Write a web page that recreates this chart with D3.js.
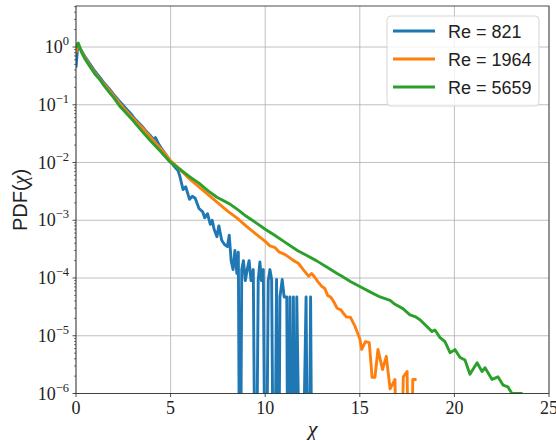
<!DOCTYPE html>
<html>
<head>
<meta charset="utf-8">
<script src="https://cdn.jsdelivr.net/npm/d3@7"></script>
<style>
  body { margin: 0; background: #fff; }
  svg { display: block; }
</style>
</head>
<body>
<svg width="556" height="440"></svg>
<script>
// series: [chi, PDF] pairs (0 = empty bin)
const re821 = [
  [0, 0.44], [0.1, 1.12], [0.3, 0.85], [0.5, 0.66], [0.75, 0.5], [1.0, 0.38], [1.25, 0.3],
  [1.5, 0.235], [1.75, 0.19], [2.0, 0.15], [2.25, 0.12], [2.5, 0.097], [2.7, 0.082], [2.9, 0.07],
  [3.1, 0.057], [3.3, 0.049], [3.5, 0.042], [3.7, 0.035], [3.9, 0.03], [4.1, 0.025], [4.2, 0.027],
  [4.4, 0.02], [4.6, 0.016], [4.8, 0.013], [5.0, 0.0105], [5.2, 0.0085], [5.4, 0.0072],
  [5.5, 0.0056], [5.66, 0.0034], [5.8, 0.0038], [6.0, 0.0023], [6.15, 0.0026], [6.3, 0.0024],
  [6.5, 0.0016], [6.7, 0.0014], [6.8, 0.0011], [6.95, 0.0013], [7.1, 0.00085], [7.2, 0.001],
  [7.3, 0.0007], [7.45, 0.00052], [7.55, 0.0008], [7.7, 0.00045], [7.85, 0.00038], [8.0, 0.00035],
  [8.1, 0.00055], [8.2, 0.0002], [8.3, 0.00014], [8.4, 0.0003], [8.5, 0.00012], [8.58, 0.00028],
  [8.67, 0], [8.76, 0.00014], [8.85, 0.0002], [8.95, 0.00009], [9.05, 0.00014], [9.15, 0.0002],
  [9.25, 0.00009], [9.37, 0.00014], [9.5, 0], [9.63, 0.00009], [9.72, 0.00019], [9.8, 0.00009],
  [9.9, 0.00014], [10.03, 0], [10.16, 0.00009], [10.25, 0.00014], [10.34, 0.000094], [10.47, 0],
  [10.6, 0.000094], [10.69, 0], [10.78, 0.000047], [10.9, 0.000094], [11.0, 0.000047],
  [11.14, 0.000047], [11.22, 0], [11.31, 0.000047], [11.4, 0], [11.49, 0.000047], [11.58, 0],
  [11.67, 0.000047], [11.9, 0], [12.16, 0.000047], [12.28, 0], [12.4, 0.000047], [12.5, 0]
];
const re1964 = [
  [0, 0.8], [0.1, 1.15], [0.3, 0.82], [0.5, 0.63], [0.75, 0.47], [1.0, 0.355], [1.25, 0.28],
  [1.5, 0.224], [1.75, 0.178], [2.0, 0.141], [2.25, 0.112], [2.5, 0.089], [2.75, 0.072],
  [3.0, 0.059], [3.25, 0.048], [3.5, 0.04], [3.75, 0.032], [4.0, 0.026], [4.25, 0.021],
  [4.5, 0.017], [4.75, 0.0135], [5.0, 0.0107], [5.5, 0.0076], [6.0, 0.0052], [6.5, 0.0038],
  [7.0, 0.00275], [7.5, 0.002], [8.0, 0.00145], [8.5, 0.0011], [9.0, 0.00079], [9.5, 0.00058],
  [10.0, 0.00043], [10.25, 0.00036], [10.5, 0.00034], [10.75, 0.00028], [11.0, 0.00026],
  [11.25, 0.00023], [11.5, 0.0002], [11.75, 0.00018], [12.0, 0.000141], [12.3, 0.000107],
  [12.45, 0.00012], [12.6, 0.000105], [12.8, 0.000085], [13.0, 0.000071], [13.15, 0.000066],
  [13.3, 0.00005], [13.45, 0.000047], [13.6, 0.00004], [13.8, 0.00003], [14.0, 0.000028],
  [14.15, 0.000024], [14.3, 0.000021], [14.5, 0.000021], [14.75, 0.0000145], [15.0, 0.0000089],
  [15.1, 0.0000058], [15.3, 0.0000079], [15.5, 0.0000076], [15.65, 0.0000019], [15.8, 0.0000019],
  [15.96, 0.0000058], [16.2, 0.0000026], [16.4, 0.0000044], [16.6, 0.0000012], [16.86, 0.00000175],
  [17.05, 0], [17.3, 0.00000195], [17.5, 0.0000024], [17.65, 0], [17.8, 0.00000175], [18.0, 0.00000175]
];
const re5659 = [
  [0, 0.95], [0.12, 1.17], [0.3, 0.8], [0.5, 0.6], [0.75, 0.45], [1.0, 0.34], [1.27, 0.27],
  [1.5, 0.21], [1.75, 0.166], [2.0, 0.132], [2.33, 0.093], [2.66, 0.071], [3.0, 0.054],
  [3.45, 0.036], [3.9, 0.0245], [4.45, 0.0158], [4.97, 0.0102], [5.5, 0.0076], [6.0, 0.0057],
  [6.5, 0.0044], [7.0, 0.0032], [7.45, 0.0025], [8.14, 0.0019], [8.6, 0.00148], [9.0, 0.00117],
  [9.5, 0.00091], [10.0, 0.0007], [10.5, 0.00055], [11.0, 0.000427], [11.7, 0.0003],
  [12.2, 0.000245], [12.7, 0.0002], [13.4, 0.000145], [13.8, 0.00012], [14.1, 0.000105],
  [14.5, 0.000087], [15.0, 0.000071], [15.54, 0.0000575], [16.07, 0.000047], [16.6, 0.000041],
  [16.86, 0.000035], [17.28, 0.0000295], [17.65, 0.000023], [17.92, 0.0000215], [18.18, 0.000019],
  [18.45, 0.0000155], [18.82, 0.0000118], [18.97, 0.0000126], [19.24, 0.0000093], [19.5, 0.0000079],
  [19.77, 0.0000051], [20.03, 0.00000575], [20.3, 0.0000042], [20.56, 0.0000038], [20.82, 0.00000215],
  [21.2, 0.0000034], [21.46, 0.0000024], [21.62, 0.0000028], [21.99, 0.00000175], [22.15, 0.00000185],
  [22.3, 0.00000195], [22.57, 0.0000014], [22.83, 0.0000013], [23.04, 0.000001], [23.3, 0.000001],
  [23.6, 0.000001]
];

const series = [
  {label: "Re = 821", data: re821, color: "#1f77b4"},
  {label: "Re = 1964", data: re1964, color: "#ff7f0e"},
  {label: "Re = 5659", data: re5659, color: "#2ca02c"}
];
const xTicks = [0, 5, 10, 15, 20, 25];
const yExps = [-6, -5, -4, -3, -2, -1, 0];

let svg = d3.select("svg");
const margin = {left: 76, right: 7, top: 6, bottom: 46.5};
const W = 556, H = 440;

let x = d3.scaleLinear().domain([0, 25]).range([margin.left, W - margin.right]);
let y = d3.scaleLog().domain([1e-6, Math.pow(10, 0.71)]).range([H - margin.bottom, margin.top]);

const serif = "'Liberation Serif', 'DejaVu Serif', serif";
const sans = "'Liberation Sans', 'DejaVu Sans', sans-serif";

svg.append("defs").append("clipPath").attr("id", "plotclip")
  .append("rect")
  .attr("x", x(0)).attr("y", y.range()[1])
  .attr("width", x(25) - x(0)).attr("height", y.range()[0] - y.range()[1]);

// grid
let grid = svg.append("g").attr("stroke", "#b0b0b0").attr("stroke-width", 0.8);
grid.selectAll("line.gx").data(xTicks).enter().append("line")
  .attr("x1", d => x(d)).attr("x2", d => x(d))
  .attr("y1", y.range()[0]).attr("y2", y.range()[1]);
grid.selectAll("line.gy").data(yExps).enter().append("line")
  .attr("y1", d => y(Math.pow(10, d))).attr("y2", d => y(Math.pow(10, d)))
  .attr("x1", x(0)).attr("x2", x(25));

// lines
let line = d3.line()
  .x(d => x(d[0]))
  .y(d => d[1] > 0 ? y(d[1]) : y.range()[0] + 200);

svg.append("g").attr("clip-path", "url(#plotclip)")
  .selectAll("path").data(series).enter().append("path")
  .attr("fill", "none")
  .attr("stroke", d => d.color)
  .attr("stroke-width", 2.9)
  .attr("stroke-linejoin", "round")
  .attr("d", d => line(d.data));

// spines
svg.append("rect")
  .attr("x", x(0)).attr("y", y.range()[1])
  .attr("width", x(25) - x(0)).attr("height", y.range()[0] - y.range()[1])
  .attr("fill", "none").attr("stroke", "#222").attr("stroke-width", 0.8);

// x ticks
let gx = svg.append("g");
gx.selectAll("line").data(xTicks).enter().append("line")
  .attr("x1", d => x(d)).attr("x2", d => x(d))
  .attr("y1", y.range()[0]).attr("y2", y.range()[0] + 3.5)
  .attr("stroke", "#222").attr("stroke-width", 0.8);
gx.selectAll("text").data(xTicks).enter().append("text")
  .attr("x", d => x(d)).attr("y", y.range()[0] + 20)
  .attr("text-anchor", "middle")
  .attr("font-family", serif).attr("font-size", 18)
  .attr("fill", "#222")
  .text(d => d);

// y ticks (major + minor)
let gy = svg.append("g");
let minors = [];
yExps.forEach(e => {
  for (let k = 2; k <= 9; k++) {
    let v = k * Math.pow(10, e);
    if (v <= y.domain()[1]) minors.push(v);
  }
});
gy.selectAll("line.minor").data(minors).enter().append("line")
  .attr("x1", x(0) - 2).attr("x2", x(0))
  .attr("y1", d => y(d)).attr("y2", d => y(d))
  .attr("stroke", "#222").attr("stroke-width", 0.6);
gy.selectAll("line.major").data(yExps).enter().append("line")
  .attr("x1", x(0) - 3.5).attr("x2", x(0))
  .attr("y1", d => y(Math.pow(10, d))).attr("y2", d => y(Math.pow(10, d)))
  .attr("stroke", "#222").attr("stroke-width", 0.8);
let ylab = gy.selectAll("text").data(yExps).enter().append("text")
  .attr("x", x(0) - 7).attr("y", d => y(Math.pow(10, d)) + 6)
  .attr("text-anchor", "end")
  .attr("font-family", serif).attr("font-size", 18)
  .attr("fill", "#222");
ylab.append("tspan").text("10");
ylab.append("tspan").attr("dy", -8).attr("font-size", 12.5)
  .text(d => d < 0 ? "\u2212" + (-d) : String(d));

// axis labels
svg.append("text")
  .attr("x", (x(0) + x(25)) / 2).attr("y", 436)
  .attr("text-anchor", "middle")
  .attr("font-family", serif).attr("font-style", "italic").attr("font-size", 22)
  .attr("fill", "#222")
  .text("\u03c7");

let yt = svg.append("text")
  .attr("transform", "translate(27," + 200 + ") rotate(-90)")
  .attr("text-anchor", "middle")
  .attr("font-size", 20).attr("fill", "#222");
yt.append("tspan").attr("font-family", sans).text("PDF(");
yt.append("tspan").attr("font-family", serif).attr("font-style", "italic").text("\u03c7");
yt.append("tspan").attr("font-family", sans).text(")");

// legend
let lg = svg.append("g");
lg.append("rect")
  .attr("x", 387).attr("y", 16).attr("width", 152).attr("height", 90).attr("rx", 4)
  .attr("fill", "#fff").attr("fill-opacity", 0.8)
  .attr("stroke", "#d6d6d6").attr("stroke-width", 1);
let items = lg.selectAll("g.item").data(series).enter().append("g")
  .attr("transform", (d, i) => "translate(0," + (31 + i * 28) + ")");
items.append("line")
  .attr("x1", 393).attr("x2", 435)
  .attr("stroke", d => d.color).attr("stroke-width", 2.9);
items.append("text")
  .attr("x", 448).attr("y", 6.5)
  .attr("font-family", sans).attr("font-size", 18)
  .attr("fill", "#222")
  .text(d => d.label);
</script>
</body>
</html>
